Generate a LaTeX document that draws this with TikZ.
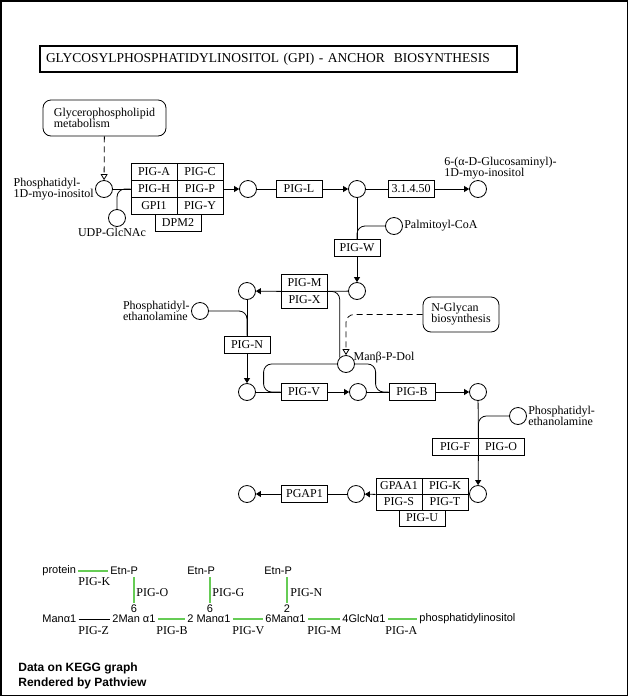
\documentclass[tikz,border=0pt]{standalone}
\usepackage{fontspec}
\setmainfont{Liberation Serif}
\setsansfont{Liberation Sans}
\usepackage{xcolor}
\usepackage{tikz}
\usetikzlibrary{arrows.meta}
\definecolor{keggreen}{RGB}{102,204,85}

\begin{document}
\begin{tikzpicture}[x=1pt,y=-1pt,line width=0.8pt,
        font=\fontsize{12}{11}\selectfont,
        gene/.style={draw,minimum width=46pt,minimum height=17pt,inner sep=0pt},
        cpd/.style={circle,draw,minimum size=17pt,inner sep=0pt},
        pathmap/.style={draw,rounded corners=8pt,align=left,inner sep=0pt},
        lbl/.style={inner sep=1pt,align=left},
        arr/.style={-{Triangle[length=5pt,width=6pt]}},
        maplink/.style={dash pattern=on 6pt off 4pt,-{Triangle[open,length=6pt,width=7pt]}},
        glyc/.style={font=\sffamily\fontsize{11}{12}\selectfont,inner sep=2pt,anchor=west},
        glycbond/.style={keggreen,line width=2pt},
        glycgene/.style={inner sep=1pt,anchor=west}]
        \useasboundingbox (0,0) rectangle (629,697);
        \draw[line width=1.5pt] (0.75,0.75) rectangle (627.5,695.5);
        % Title
        \node[draw,line width=1.5pt,minimum height=26pt,text width=465pt,inner sep=6pt,align=left,
            font=\fontsize{13.5}{14}\selectfont] (title) at (278.5,59)
            {GLYCOSYLPHOSPHATIDYLINOSITOL (GPI) - ANCHOR\ \ BIOSYNTHESIS};
        % Maps
        \node[pathmap,minimum width=123pt,minimum height=36pt] (gpmet) at (104.5,118) {Glycerophospholipid\\metabolism};
        \node[pathmap,minimum width=76pt,minimum height=35pt] (nglycan) at (461,314.5) {N-Glycan\\biosynthesis};
        % Compounds
        \node[cpd] (pi) at (104,189) {};
        \node[cpd] (udp) at (117,218) {};
        \node[cpd] (c1) at (248,189) {};
        \node[cpd] (c2) at (357,189) {};
        \node[cpd] (c3) at (478,189) {};
        \node[cpd] (palm) at (394,226) {};
        \node[cpd] (c4) at (357,291) {};
        \node[cpd] (c5) at (247,291) {};
        \node[cpd] (pe1) at (200,311) {};
        \node[cpd] (mpd) at (346,364) {};
        \node[cpd] (c6) at (247,392) {};
        \node[cpd] (c7) at (358,392) {};
        \node[cpd] (c8) at (478,392) {};
        \node[cpd] (pe2) at (518,416) {};
        \node[cpd] (c9) at (478,494) {};
        \node[cpd] (c10) at (356,494) {};
        \node[cpd] (c11) at (247,494) {};
        % Compound names
        \node[lbl,anchor=east] (pilbl) at (pi.west) {Phosphatidyl-\\1D-myo-inositol};
        \node[lbl,anchor=north] (udplbl) at ([xshift=-5pt]udp.south) {UDP-GlcNAc};
        \node[lbl,anchor=south west] (c3lbl) at ([xshift=-35pt]c3.north) {6-(α-D-Glucosaminyl)-\\1D-myo-inositol};
        \node[lbl,anchor=west] (palmlbl) at (palm.east) {Palmitoyl-CoA};
        \node[lbl,anchor=east] (pe1lbl) at (pe1.west) {Phosphatidyl-\\ethanolamine};
        \node[lbl,anchor=west] (mpdlbl) at (mpd.north east) {Manβ-P-Dol};
        \node[lbl,anchor=west] (pe2lbl) at (pe2.east) {Phosphatidyl-\\ethanolamine};
        % Genes
        \node[gene] (piga) at (154,172) {PIG-A};
        \node[gene] (pigc) at (200,172) {PIG-C};
        \node[gene] (pigh) at (154,189) {PIG-H};
        \node[gene] (pigp) at (200,189) {PIG-P};
        \node[gene] (gpi1) at (154,206) {GPI1};
        \node[gene] (pigy) at (200,206) {PIG-Y};
        \node[gene] (dpm2) at (178,223) {DPM2};
        \node[gene] (pigl) at (299,189) {PIG-L};
        \node[gene] (ec31450) at (411,189) {3.1.4.50};
        \node[gene] (pigw) at (357,248) {PIG-W};
        \node[gene] (pigm) at (304.5,282.5) {PIG-M};
        \node[gene] (pigx) at (304.5,299.5) {PIG-X};
        \node[gene] (pign) at (247,344.5) {PIG-N};
        \node[gene] (pigv) at (304,392) {PIG-V};
        \node[gene] (pigb) at (412,392) {PIG-B};
        \node[gene] (pigf) at (455,447) {PIG-F};
        \node[gene] (pigo) at (501,447) {PIG-O};
        \node[gene,minimum height=16pt] (gpaa1) at (399,486) {GPAA1};
        \node[gene,minimum height=16pt] (pigk) at (445,486) {PIG-K};
        \node[gene,minimum height=16pt] (pigs) at (399,502) {PIG-S};
        \node[gene,minimum height=16pt] (pigt) at (445,502) {PIG-T};
        \node[gene,minimum height=16pt] (pigu) at (422,518) {PIG-U};
        \node[gene] (pgap1) at (304.5,494) {PGAP1};
        % Edges
        \draw[maplink] (gpmet) -- (pi);
        \draw (pi) -- (pigh);
        \draw[rounded corners=8pt] (udp.north) |- (pigh.west);
        \draw[arr] (pigp) -- (c1);
        \draw (c1) -- (pigl);
        \draw[arr] (pigl) -- (c2);
        \draw (c2) -- (ec31450);
        \draw[arr] (ec31450) -- (c3);
        \draw (c2) -- (pigw);
        \draw[rounded corners=8pt] (palm.west) -| (pigw.north);
        \draw[arr] (pigw) -- (c4);
        \draw (c4) -- (pigm.south east);
        \draw[arr] (pigm.south west) -- (c5);
        \draw[rounded corners=8pt] (pigm.south east) -| (mpd.north west);
        \draw[maplink,rounded corners=8pt] (nglycan.west) -| (mpd.north);
        \draw[rounded corners=8pt] (pe1.east) -| (pign.north);
        \draw (c5) -- (pign);
        \draw[arr] (pign) -- (c6);
        \draw (c6) -- (pigv);
        \draw[arr] (pigv) -- (c7);
        \draw[rounded corners=8pt] (mpd.west) -| ([xshift=-17pt]pigv.west) -- (pigv.west);
        \draw (c7) -- (pigb);
        \draw[rounded corners=8pt] (mpd.east) -| ([xshift=-13pt]pigb.west) -- (pigb.west);
        \draw[arr] (pigb) -- (c8);
        \draw (c8) -- (pigf.north east);
        \draw[rounded corners=8pt] (pe2.west) -| (pigf.north east);
        \draw[arr] (pigf.south east) -- (c9);
        \draw (c9) -- (pigk.south east);
        \draw[arr] (gpaa1.south west) -- (c10);
        \draw (c10) -- (pgap1);
        \draw[arr] (pgap1) -- (c11);
        % Glycan structure
        \node[glyc] (protein) at (40,571) {protein};
        \node[glyc] (etn1) at (108,571) {Etn-P};
        \node[glyc] (etn2) at (185,571) {Etn-P};
        \node[glyc] (etn3) at (262,571) {Etn-P};
        \node[glyc,anchor=center] (num1) at (134,609) {6};
        \node[glyc,anchor=center] (num2) at (210,609) {6};
        \node[glyc,anchor=center] (num3) at (287,609) {2};
        \node[glyc] (man1) at (40,619) {Manα1};
        \node[glyc] (man2) at (110,619) {2Man α1};
        \node[glyc] (man3) at (185,619) {2 Manα1};
        \node[glyc] (man4) at (263,619) {6Manα1};
        \node[glyc] (glcn) at (340,619) {4GlcNα1};
        \node[glyc] (pinos) at (417,619) {phosphatidylinositol};
        \draw[glycbond] (protein) -- (etn1);
        \draw[glycbond] (num1.north) -- (num1.north |- etn1.south);
        \draw[glycbond] (num2.north) -- (num2.north |- etn2.south);
        \draw[glycbond] (num3.north) -- (num3.north |- etn3.south);
        \draw (man1) -- (man2);
        \draw[glycbond] (man2) -- (man3);
        \draw[glycbond] (man3) -- (man4);
        \draw[glycbond] (man4) -- (glcn);
        \draw[glycbond] (glcn) -- (pinos);
        % Glycan genes
        \node[glycgene] (kpigk) at (77,582) {PIG-K};
        \node[glycgene] (kpigo) at (135,593) {PIG-O};
        \node[glycgene] (kpigg) at (211,593) {PIG-G};
        \node[glycgene] (kpign) at (289,593) {PIG-N};
        \node[glycgene] (kpigz) at (77,631) {PIG-Z};
        \node[glycgene] (kpigb) at (155,631) {PIG-B};
        \node[glycgene] (kpigv) at (231,631) {PIG-V};
        \node[glycgene] (kpigm) at (306,631) {PIG-M};
        \node[glycgene] (kpiga) at (384,631) {PIG-A};
        % Footer
        \node[anchor=west,align=left,inner sep=0pt,font=\sffamily\bfseries\fontsize{12}{15}\selectfont] (note) at (18,676)
            {Data on KEGG graph\\Rendered by Pathview};
    \end{tikzpicture}
\end{document}
